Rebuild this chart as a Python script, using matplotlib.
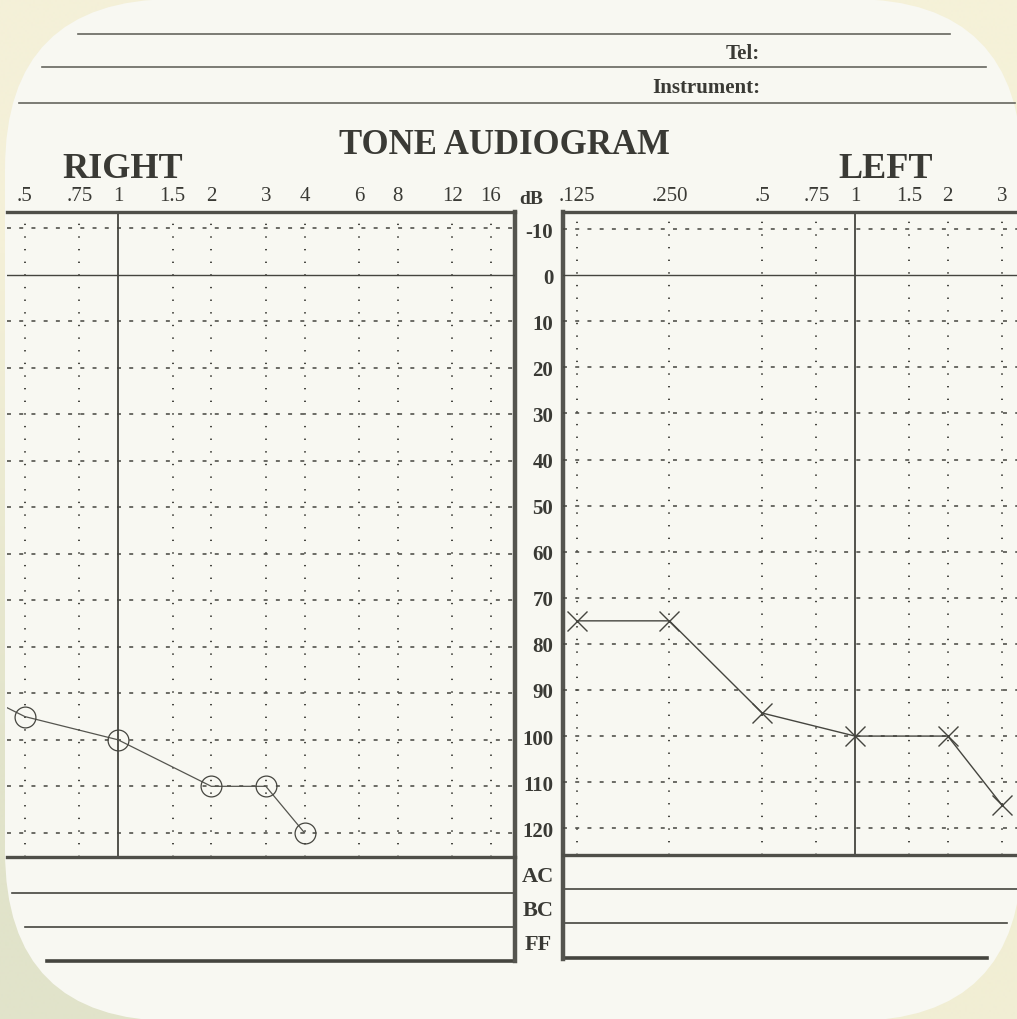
import numpy as np
import matplotlib
matplotlib.use("Agg")
import matplotlib.pyplot as plt
from matplotlib.patches import FancyBboxPatch
from matplotlib.ticker import NullLocator

# DATA
right_freqs = [0.5, 0.75, 1, 1.5, 2, 3, 4, 6, 8, 12, 16]
right_labels = [".5", ".75", "1", "1.5", "2", "3", "4", "6", "8", "12", "16"]
left_freqs = [0.125, 0.25, 0.5, 0.75, 1, 1.5, 2, 3]
left_labels = [".125", ".250", ".5", ".75", "1", "1.5", "2", "3"]
db_levels = [-10, 0, 10, 20, 30, 40, 50, 60, 70, 80, 90, 100, 110, 120]

# right ear (O), first point sits outside the visible part of the form
r_freq = [0.25, 0.5, 1, 2, 3, 4]
r_db = [85, 95, 100, 110, 110, 120]
# left ear (X)
l_freq = [0.125, 0.25, 0.5, 1, 2, 3]
l_db = [75, 75, 95, 100, 100, 115]

row_labels = ["AC", "BC", "FF"]

W, H = 1017, 1020
ink = "#45453f"
txt = "#3a3a35"
plt.rcParams["font.family"] = ["Liberation Serif", "DejaVu Serif"]

fig = plt.figure(figsize=(W / 100, H / 100), dpi=100)
bg = fig.add_axes([0, 0, 1, 1])
bg.set_xlim(0, W)
bg.set_ylim(H, 0)
bg.axis("off")

# cream background + paper card
grad = np.array([[[244, 240, 216], [245, 241, 216]],
                 [[225, 227, 202], [241, 238, 212]]]) / 255
bg.imshow(grad, extent=(0, W, H, 0), interpolation="bilinear", aspect="auto", zorder=0)
card = FancyBboxPatch((5, 0), 1017, 1022, boxstyle="round,pad=0,rounding_size=170",
                      fc="#f8f8f2", ec="none", zorder=1)
bg.add_patch(card)

# header lines and texts
for y, x0, x1 in [(35, 78, 950), (68, 42, 986), (104, 19, 1015)]:
    bg.plot([x0, x1], [y, y], color="#66665f", lw=1.2, zorder=2)
bg.text(760, 54, "Tel:", ha="right", va="center", fontsize=15, fontweight="bold", color=txt, zorder=3)
bg.text(760, 88, "Instrument:", ha="right", va="center", fontsize=15, fontweight="bold", color=txt, zorder=3)
bg.text(504, 145, "TONE AUDIOGRAM", ha="center", va="center", fontsize=25, fontweight="bold", color=txt, zorder=3)
bg.text(123, 170, "RIGHT", ha="center", va="center", fontsize=26, fontweight="bold", color=txt, zorder=3)
bg.text(886, 170, "LEFT", ha="center", va="center", fontsize=26, fontweight="bold", color=txt, zorder=3)
bg.text(531, 199, "dB", ha="center", va="center", fontsize=14, fontweight="bold", color=txt, zorder=3)

# bottom section (AC / BC / FF)
for y, x0, x1, lw in [(894, 12, 515, 1.2), (928, 25, 515, 1.2), (962, 47, 515, 2.6),
                      (890, 563, 1017, 1.2), (924, 563, 1007, 1.2), (959, 563, 987, 2.6)]:
    bg.plot([x0, x1], [y, y], color=ink, lw=lw, zorder=2)
bg.plot([515, 515], [213, 962], color="#55554f", lw=3.2, zorder=2)
bg.plot([563, 563], [213, 960], color="#55554f", lw=3.2, zorder=2)
for lab, y in zip(row_labels, [877, 911, 945]):
    bg.text(538, y, lab, ha="center", va="center", fontsize=16, fontweight="bold", color=txt, zorder=3)


def px_axes(x0, y0, x1, y1):
    return fig.add_axes([x0 / W, 1 - y1 / H, (x1 - x0) / W, (y1 - y0) / H])


def setup_panel(ax, freqs, labels, hide_side):
    ax.set_facecolor("none")
    ax.set_xscale("log", base=2)
    ax.xaxis.tick_top()
    ax.set_xticks(freqs)
    ax.set_xticklabels(labels)
    ax.xaxis.set_minor_locator(NullLocator())
    ax.tick_params(axis="x", length=0, pad=5, labelsize=15, colors=txt)
    for f in freqs:
        if f == 1:
            ax.axvline(f, color=ink, lw=1.3, zorder=1)
        else:
            ax.axvline(f, color=ink, lw=1.4, ls=(0, (0.7, 5.8)), zorder=1)
    for d in db_levels:
        if d == 0:
            ax.axhline(d, color=ink, lw=1.0, zorder=1)
        else:
            ax.axhline(d, color=ink, lw=1.1, ls=(0, (2.6, 5.4)), zorder=1)
    for s in ax.spines.values():
        s.set_color("#4f4f49")
        s.set_linewidth(2.4)
    ax.spines[hide_side].set_visible(False)


# right ear panel
ax_r = px_axes(7, 213, 515, 858)
setup_panel(ax_r, right_freqs, right_labels, "left")
ax_r.spines["right"].set_visible(False)
ax_r.set_xlim(0.438, 19.12)
ax_r.set_ylim(125.2, -13.5)
ax_r.set_yticks([])
ax_r.plot(r_freq, r_db, color="#55554f", lw=0.9, marker="o", ms=15, mfc="none",
          mec="#45453f", mew=0.9, zorder=3)

# left ear panel
ax_l = px_axes(563, 213, 1017, 856)
setup_panel(ax_l, left_freqs, left_labels, "right")
ax_l.spines["left"].set_visible(False)
ax_l.set_xlim(0.1129, 3.354)
ax_l.set_ylim(125.8, -13.7)
ax_l.set_yticks(db_levels)
ax_l.set_yticklabels([str(d) for d in db_levels])
ax_l.tick_params(axis="y", length=0, pad=7, labelsize=15, colors=txt)
for t in ax_l.get_yticklabels():
    t.set_fontweight("bold")
ax_l.plot(l_freq, l_db, color="#45453f", lw=1.0, marker="x", ms=15, mew=1.0, zorder=3)

fig.savefig("out.png", dpi=100)
